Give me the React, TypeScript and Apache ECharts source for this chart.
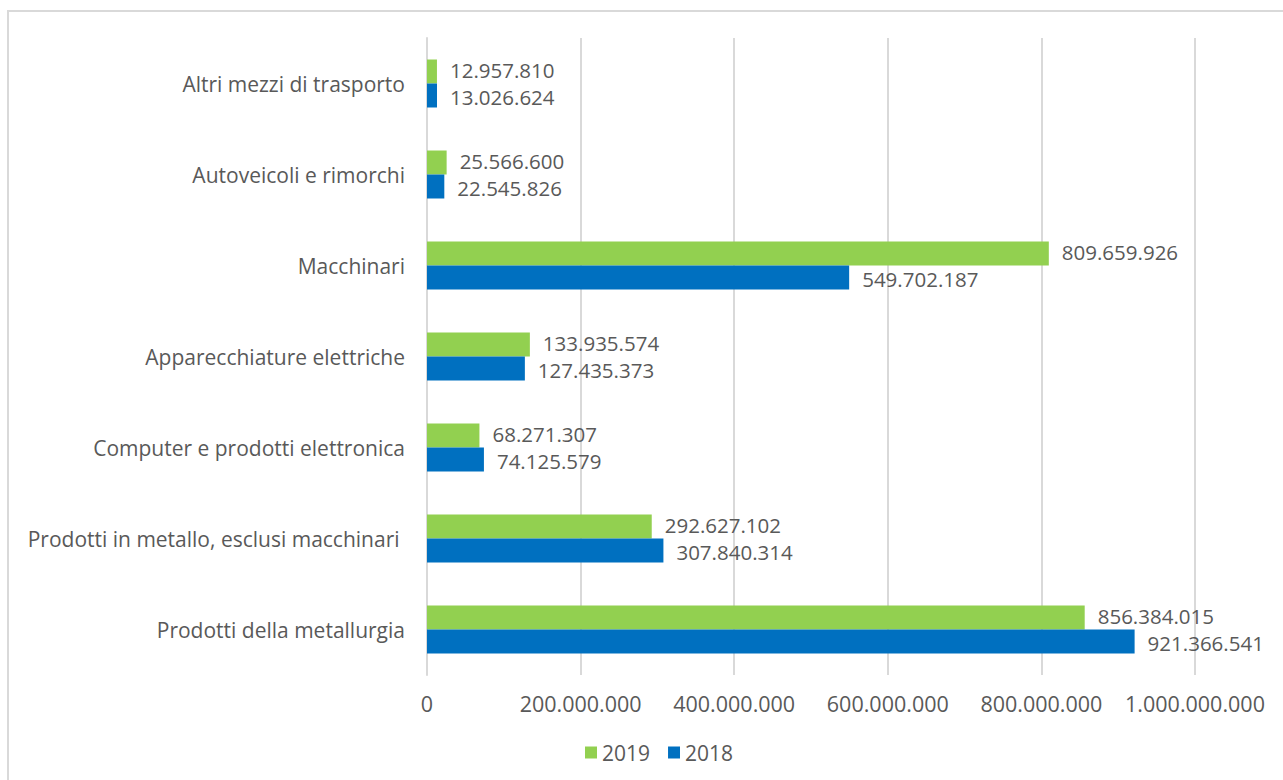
import React, { useEffect, useRef } from "react";
import * as echarts from "echarts";

const categories = [
  "Prodotti della metallurgia",
  "Prodotti in metallo, esclusi macchinari ",
  "Computer e prodotti elettronica",
  "Apparecchiature elettriche",
  "Macchinari",
  "Autoveicoli e rimorchi",
  "Altri mezzi di trasporto",
];
const values2019 = [856384015, 292627102, 68271307, 133935574, 809659926, 25566600, 12957810];
const values2018 = [921366541, 307840314, 74125579, 127435373, 549702187, 22545826, 13026624];
const seriesNames = ["2019", "2018"];

const fmt = (v: number) => String(Math.round(v)).replace(/\B(?=(\d{3})+(?!\d))/g, ".");

const FONT = "'Open Sans', sans-serif";
const TXT = "#595959";

export default function App() {
  const ref = useRef<HTMLDivElement>(null);
  useEffect(() => {
    if (!ref.current) return;
    const chart = echarts.init(ref.current, undefined, { renderer: "svg" });
    const labelCfg = (dy: number) => ({
      show: true,
      position: "right",
      distance: 13,
      offset: [0, dy],
      color: TXT,
      fontSize: 20.5,
      lineHeight: 20,
      fontFamily: FONT,
      formatter: (p: any) => fmt(p.value),
    });
    chart.setOption({
      animation: false,
      backgroundColor: "#ffffff",
      textStyle: { fontFamily: FONT },
      graphic: [
        {
          type: "rect",
          shape: { x: 8, y: 11, width: 1300, height: 800 },
          style: { fill: "none", stroke: "#d9d9d9", lineWidth: 2 },
          silent: true,
          z: -1,
        },
      ],
      grid: { left: 427, right: 88, top: 38, bottom: 105, containLabel: false },
      legend: {
        data: seriesNames,
        bottom: 12,
        left: 580,
        icon: "rect",
        itemWidth: 12,
        itemHeight: 12,
        itemGap: 18,
        textStyle: { color: TXT, fontSize: 21, fontFamily: FONT },
      },
      xAxis: {
        type: "value",
        min: 0,
        max: 1000000000,
        interval: 200000000,
        axisLine: { show: false },
        axisTick: { show: false },
        splitLine: { show: true, lineStyle: { color: "#d9d9d9", width: 2 } },
        axisLabel: {
          color: TXT,
          fontSize: 21.5,
          fontFamily: FONT,
          margin: 17,
          formatter: (v: number) => fmt(v),
        },
      },
      yAxis: {
        type: "category",
        data: categories,
        axisLine: { show: true, lineStyle: { color: "#d9d9d9", width: 2 } },
        axisTick: { show: false },
        axisLabel: { color: TXT, fontSize: 21, fontFamily: FONT, margin: 22 },
      },
      series: [
        {
          name: "2019",
          type: "bar",
          data: values2019,
          barWidth: 24,
          barGap: "0%",
          itemStyle: { color: "#92D050" },
          label: labelCfg(-1.5),
        },
        {
          name: "2018",
          type: "bar",
          data: values2018,
          barWidth: 24,
          barGap: "0%",
          itemStyle: { color: "#0070C0" },
          label: labelCfg(1.5),
        },
      ],
    });
    return () => chart.dispose();
  }, []);
  return (
    <div
      ref={ref}
      style={{ position: "absolute", left: 0, top: 0, width: 1283, height: 780 }}
    />
  );
}
